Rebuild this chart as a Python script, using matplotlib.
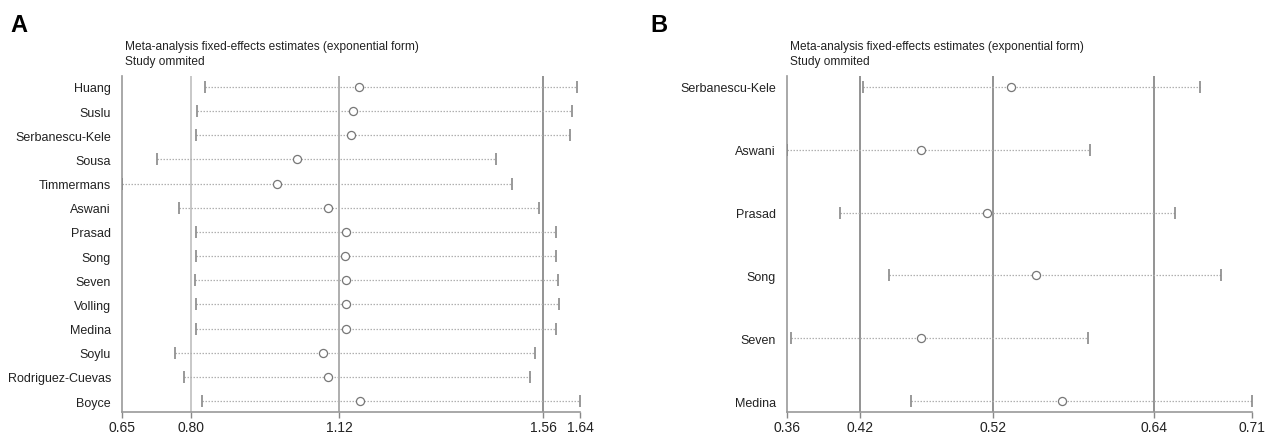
import matplotlib
matplotlib.use("Agg")
import matplotlib.pyplot as plt

plt.rcParams['font.family'] = ['Liberation Sans', 'DejaVu Sans']

# ---------------- Panel A data ----------------
studies_a = ["Huang", "Suslu", "Serbanescu-Kele", "Sousa", "Timmermans", "Aswani",
             "Prasad", "Song", "Seven", "Volling", "Medina", "Soylu",
             "Rodriguez-Cuevas", "Boyce"]
est_a = [1.163, 1.149, 1.144, 1.028, 0.985, 1.095, 1.134, 1.133, 1.134, 1.134,
         1.135, 1.084, 1.095, 1.164]
low_a = [0.829, 0.812, 0.811, 0.725, 0.650, 0.773, 0.810, 0.809, 0.808, 0.810,
         0.811, 0.765, 0.785, 0.824]
up_a = [1.634, 1.622, 1.618, 1.459, 1.494, 1.551, 1.588, 1.588, 1.592, 1.595,
        1.588, 1.543, 1.532, 1.640]
ticks_a = [0.65, 0.80, 1.12, 1.56, 1.64]
ticklabels_a = ["0.65", "0.80", "1.12", "1.56", "1.64"]
overall_a = [0.80, 1.12, 1.56]   # lower CI, estimate, upper CI

# ---------------- Panel B data ----------------
studies_b = ["Serbanescu-Kele", "Aswani", "Prasad", "Song", "Seven", "Medina"]
est_b = [0.531, 0.463, 0.513, 0.549, 0.463, 0.569]
low_b = [0.420, 0.363, 0.403, 0.439, 0.366, 0.456]
up_b = [0.672, 0.590, 0.653, 0.688, 0.588, 0.711]
ticks_b = [0.363, 0.418, 0.517, 0.638, 0.711]
ticklabels_b = ["0.36", "0.42", "0.52", "0.64", "0.71"]
overall_b = [0.418, 0.517, 0.638]

title1 = "Meta-analysis fixed-effects estimates (exponential form)"
title2 = "Study ommited"

W, H = 1265, 435
fig = plt.figure(figsize=(W / 100, H / 100), dpi=100)


def panel(rect, studies, est, low, up, ticks, ticklabels, overall, line_colors, pad_frac):
    ax = fig.add_axes(rect)
    n = len(studies)
    ypos = list(range(n))
    ax.set_xlim(ticks[0], ticks[-1])
    ax.set_ylim(n - 1 + pad_frac, -pad_frac)
    for v, c in zip(overall, line_colors):
        ax.axvline(v, color=c, lw=1.3, zorder=1)
    ax.hlines(ypos, low, up, colors="#b0b0b0", lw=0.9,
              linestyles=(0, (1.2, 1.2)), zorder=2)
    ax.plot(low, ypos, ls="none", marker="|", ms=8, mew=1.2, color="#888888", zorder=3)
    ax.plot(up, ypos, ls="none", marker="|", ms=8, mew=1.2, color="#888888", zorder=3)
    ax.scatter(est, ypos, s=34, facecolors="white", edgecolors="#777777",
               linewidths=0.9, zorder=4)
    ax.set_yticks(ypos)
    ax.set_yticklabels(studies, fontsize=9, color="#222222")
    ax.tick_params(axis="y", length=0, pad=8)
    ax.set_xticks(ticks)
    ax.set_xticklabels(ticklabels, fontsize=10, color="#222222")
    ax.tick_params(axis="x", length=4, width=1, color="#888888", pad=2)
    for s in ["top", "right"]:
        ax.spines[s].set_visible(False)
    for s in ["left", "bottom"]:
        ax.spines[s].set_color("#999999")
        ax.spines[s].set_linewidth(1.2)
    return ax


bottom = 1 - 413 / H
top = 1 - 77 / H
axA = panel([122 / W, bottom, (580 - 122) / W, top - bottom], studies_a, est_a, low_a, up_a,
            ticks_a, ticklabels_a, overall_a, ["#c4c4c4", "#a8a8a8", "#8a8a8a"], 0.455)
axB = panel([787 / W, bottom, (1252 - 787) / W, top - bottom], studies_b, est_b, low_b, up_b,
            ticks_b, ticklabels_b, overall_b, ["#8a8a8a", "#8a8a8a", "#8a8a8a"], 0.175)

for x0 in (125, 790):
    fig.text(x0 / W, 1 - 47 / H, title1, fontsize=8.6, color="#222222", va="center", ha="left")
    fig.text(x0 / W, 1 - 62 / H, title2, fontsize=8.6, color="#222222", va="center", ha="left")

fig.text(10 / W, 1 - 25 / H, "A", fontsize=17, fontweight="bold", va="center", ha="left")
fig.text(650 / W, 1 - 25 / H, "B", fontsize=17, fontweight="bold", va="center", ha="left")

fig.savefig("out.png", dpi=100)
